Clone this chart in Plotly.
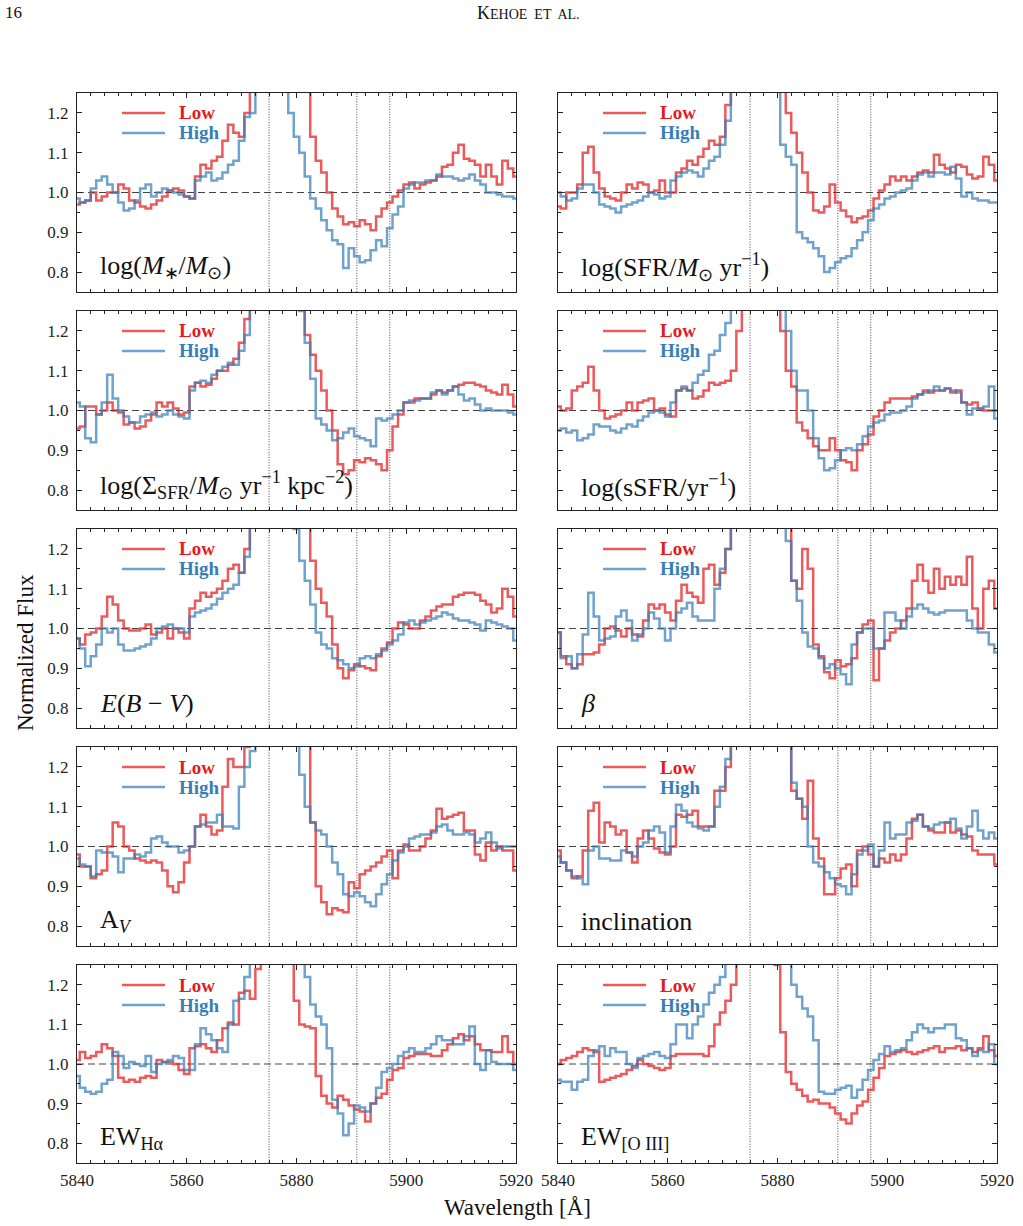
import plotly.graph_objects as go

# ---------------- data (normalized flux, 1 A bins, 5840..5920) ----------------
wavelength = list(range(5840, 5921))

mstar_low = [0.97, 0.975, 0.98, 1.0, 0.98, 0.99, 1.0, 1.0, 1.02, 1.01,
             0.98, 0.975, 0.965, 0.96, 0.97, 0.98, 0.99, 1.005, 1.01, 1.005,
             0.99, 0.985, 1.04, 1.07, 1.06, 1.08, 1.09, 1.13, 1.17, 1.15,
             1.14, 1.2, 1.4, 1.4, 1.4, 1.4, 1.4, 1.4, 1.4, 1.4,
             1.4, 1.4, 1.35, 1.14, 1.08, 1.05, 1.0, 0.96, 0.94, 0.92,
             0.925, 0.915, 0.93, 0.92, 0.905, 0.94, 0.96, 0.975, 0.99, 1.005,
             1.02, 1.025, 1.01, 1.02, 1.025, 1.03, 1.04, 1.065, 1.07, 1.1,
             1.12, 1.085, 1.08, 1.07, 1.04, 1.07, 1.04, 1.02, 1.08, 1.06, 1.04]
mstar_high = [0.985, 0.975, 0.98, 1.01, 1.03, 1.04, 1.02, 1.0, 0.975, 0.955,
              0.96, 0.98, 1.01, 1.02, 0.99, 1.0, 1.01, 1.005, 1.0, 0.995,
              0.99, 0.985, 1.03, 1.04, 1.05, 1.03, 1.035, 1.05, 1.07, 1.08,
              1.13, 1.19, 1.2, 1.26, 1.4, 1.4, 1.4, 1.4, 1.4, 1.2,
              1.14, 1.1, 1.04, 0.985, 0.96, 0.93, 0.905, 0.88, 0.87, 0.81,
              0.86, 0.84, 0.825, 0.83, 0.855, 0.88, 0.865, 0.91, 0.945, 0.965,
              1.01, 1.02, 1.025, 1.025, 1.03, 1.03, 1.045, 1.04, 1.04, 1.035,
              1.03, 1.035, 1.045, 1.03, 1.02, 1.0, 1.0, 0.995, 0.99, 0.99, 0.985]

sfr_low = [0.965, 0.96, 1.0, 1.0, 1.02, 1.1, 1.115, 1.05, 1.01, 0.99,
           0.985, 0.98, 1.0, 1.02, 1.01, 1.025, 1.02, 1.0, 1.005, 1.03,
           1.0, 1.0, 1.05, 1.06, 1.08, 1.07, 1.09, 1.11, 1.13, 1.12,
           1.14, 1.22, 1.4, 1.4, 1.4, 1.4, 1.4, 1.4, 1.4, 1.4,
           1.4, 1.35, 1.2, 1.15, 1.1, 1.05, 1.0, 0.955, 0.95, 0.965,
           1.02, 0.975, 0.955, 0.94, 0.925, 0.935, 0.94, 0.955, 0.985, 1.005,
           1.02, 1.04, 1.03, 1.04, 1.03, 1.04, 1.05, 1.055, 1.05, 1.095,
           1.07, 1.06, 1.05, 1.07, 1.065, 1.045, 1.035, 1.04, 1.09, 1.07, 1.03]
sfr_high = [1.0, 0.99, 0.98, 0.985, 1.01, 1.02, 1.02, 1.0, 0.97, 0.965,
            0.96, 0.95, 0.965, 0.97, 0.975, 0.98, 0.99, 1.0, 0.995, 0.985,
            0.99, 1.03, 1.04, 1.05, 1.055, 1.05, 1.04, 1.06, 1.08, 1.09,
            1.12, 1.18, 1.3, 1.4, 1.4, 1.4, 1.4, 1.4, 1.4, 1.4,
            1.3, 1.12, 1.09, 1.07, 0.9, 0.885, 0.875, 0.86, 0.84, 0.8,
            0.81, 0.825, 0.835, 0.84, 0.86, 0.88, 0.9, 0.93, 0.96, 0.97,
            0.985, 0.99, 1.0, 1.005, 1.01, 1.03, 1.045, 1.05, 1.04, 1.05,
            1.05, 1.045, 1.065, 1.035, 0.99, 1.0, 0.985, 0.98, 0.98, 0.975, 0.975]

sigsfr_low = [0.955, 0.96, 1.01, 1.01, 0.99, 1.0, 1.02, 1.0, 0.995, 0.965,
              0.97, 0.955, 0.96, 0.975, 0.99, 1.02, 1.01, 1.02, 1.005, 0.99,
              0.995, 1.06, 1.07, 1.06, 1.065, 1.08, 1.1, 1.1, 1.115, 1.13,
              1.17, 1.23, 1.4, 1.4, 1.4, 1.4, 1.4, 1.4, 1.4, 1.4,
              1.4, 1.3, 1.19, 1.14, 1.1, 1.05, 1.0, 0.95, 0.865, 0.84,
              0.85, 0.875, 0.87, 0.88, 0.875, 0.865, 0.85, 0.9, 0.96, 0.99,
              1.02, 1.02, 1.03, 1.03, 1.03, 1.04, 1.05, 1.045, 1.05, 1.06,
              1.065, 1.07, 1.07, 1.065, 1.06, 1.05, 1.045, 1.04, 1.065, 1.04, 1.01]
sigsfr_high = [1.02, 1.01, 0.93, 0.92, 0.99, 1.02, 1.09, 1.03, 1.0, 0.985,
               0.97, 0.97, 0.985, 0.99, 0.995, 0.985, 0.99, 1.0, 0.99, 0.985,
               0.98, 1.05, 1.07, 1.075, 1.07, 1.09, 1.1, 1.11, 1.12, 1.115,
               1.15, 1.19, 1.3, 1.4, 1.4, 1.4, 1.4, 1.4, 1.4, 1.4,
               1.4, 1.25, 1.17, 1.08, 0.98, 0.965, 0.95, 0.925, 0.93, 0.945,
               0.955, 0.935, 0.93, 0.925, 0.91, 0.98, 0.975, 0.98, 0.99, 1.0,
               1.02, 1.025, 1.025, 1.03, 1.03, 1.045, 1.05, 1.04, 1.05, 1.06,
               1.04, 1.025, 1.03, 1.015, 1.0, 1.005, 1.0, 1.0, 1.0, 0.995, 0.99]

ssfr_low = [1.01, 1.0, 1.005, 1.05, 1.06, 1.07, 1.11, 1.05, 1.0, 0.98,
            0.985, 0.99, 1.0, 1.02, 1.0, 1.02, 1.025, 1.03, 1.0, 1.005,
            0.99, 0.985, 1.05, 1.055, 1.05, 1.03, 1.035, 1.05, 1.07, 1.065,
            1.07, 1.075, 1.1, 1.2, 1.4, 1.4, 1.4, 1.4, 1.4, 1.4,
            1.4, 1.2, 1.1, 1.06, 0.97, 0.95, 0.93, 0.91, 0.9, 0.9,
            0.93, 0.9, 0.875, 0.87, 0.85, 0.9, 0.915, 0.94, 0.985, 1.0,
            1.02, 1.03, 1.03, 1.03, 1.03, 1.035, 1.04, 1.05, 1.045, 1.05,
            1.05, 1.055, 1.045, 1.05, 1.02, 1.015, 1.02, 1.005, 1.0, 1.0, 1.0]
ssfr_high = [0.95, 0.955, 0.945, 0.95, 0.925, 0.93, 0.94, 0.965, 0.96, 0.96,
             0.95, 0.945, 0.955, 0.965, 0.96, 0.975, 0.985, 0.995, 1.0, 0.995,
             0.985, 1.02, 1.05, 1.06, 1.05, 1.07, 1.09, 1.1, 1.14, 1.15,
             1.19, 1.22, 1.3, 1.4, 1.4, 1.4, 1.4, 1.4, 1.4, 1.4,
             1.4, 1.3, 1.2, 1.1, 1.05, 1.05, 1.0, 0.93, 0.88, 0.85,
             0.855, 0.875, 0.9, 0.905, 0.9, 0.915, 0.935, 0.96, 0.97, 0.975,
             0.99, 0.995, 0.995, 1.0, 1.01, 1.03, 1.04, 1.045, 1.05, 1.06,
             1.05, 1.055, 1.05, 1.045, 1.02, 0.99, 1.005, 1.005, 1.01, 1.06, 0.98]

ebv_low = [0.975, 0.96, 0.985, 0.99, 1.0, 1.03, 1.08, 1.06, 1.02, 1.0,
           0.995, 0.995, 1.0, 1.01, 0.985, 0.99, 1.0, 0.975, 1.0, 0.99,
           0.975, 1.05, 1.07, 1.09, 1.08, 1.09, 1.1, 1.12, 1.15, 1.16,
           1.14, 1.2, 1.3, 1.4, 1.4, 1.4, 1.4, 1.4, 1.4, 1.4,
           1.4, 1.4, 1.3, 1.17, 1.1, 1.065, 1.03, 0.96, 0.9, 0.875,
           0.895, 0.91, 0.905, 0.9, 0.895, 0.93, 0.95, 0.965, 1.0, 1.015,
           1.01, 1.0, 1.0, 1.02, 1.03, 1.045, 1.055, 1.06, 1.06, 1.08,
           1.085, 1.09, 1.09, 1.085, 1.07, 1.06, 1.04, 1.05, 1.1, 1.08, 1.03]
ebv_high = [0.975, 0.95, 0.905, 0.93, 0.96, 1.0, 0.99, 1.0, 0.96, 0.945,
            0.945, 0.95, 0.955, 0.96, 0.975, 1.0, 1.005, 1.01, 1.0, 1.0,
            0.99, 1.03, 1.04, 1.045, 1.05, 1.06, 1.075, 1.09, 1.1, 1.11,
            1.14, 1.18, 1.3, 1.4, 1.4, 1.4, 1.4, 1.4, 1.4, 1.4,
            1.25, 1.17, 1.12, 1.06, 0.99, 0.96, 0.95, 0.925, 0.92, 0.91,
            0.9, 0.905, 0.925, 0.93, 0.925, 0.935, 0.945, 0.96, 0.97, 0.985,
            1.015, 1.02, 1.01, 1.015, 1.02, 1.025, 1.03, 1.04, 1.035, 1.025,
            1.02, 1.02, 1.015, 1.01, 0.995, 1.02, 1.015, 1.01, 1.005, 1.0, 0.97]

beta_low = [0.99, 0.93, 0.91, 0.9, 0.91, 0.935, 0.935, 0.94, 0.96, 1.0,
            1.005, 0.995, 0.98, 1.0, 0.985, 0.98, 1.02, 1.06, 1.05, 1.06,
            1.04, 1.02, 1.07, 1.11, 1.09, 1.08, 1.065, 1.15, 1.16, 1.11,
            1.14, 1.2, 1.3, 1.4, 1.4, 1.4, 1.4, 1.4, 1.4, 1.4,
            1.4, 1.4, 1.3, 1.12, 1.1, 1.2, 1.15, 0.96, 0.93, 0.89,
            0.875, 0.92, 0.905, 0.91, 0.925, 0.99, 1.01, 1.02, 0.87, 0.95,
            0.97, 0.99, 1.0, 1.02, 1.05, 1.12, 1.16, 1.12, 1.09, 1.15,
            1.1, 1.13, 1.11, 1.13, 1.11, 1.18, 1.05, 1.0, 1.1, 1.12, 1.05]
beta_high = [0.99, 0.925, 0.93, 0.9, 0.935, 0.985, 1.09, 1.03, 0.97, 0.975,
             0.98, 1.03, 1.045, 1.02, 0.97, 0.985, 1.0, 1.04, 1.025, 1.0,
             0.97, 1.0, 1.04, 1.05, 1.065, 1.03, 1.02, 1.02, 1.02, 1.1,
             1.15, 1.2, 1.3, 1.4, 1.4, 1.4, 1.4, 1.4, 1.4, 1.4,
             1.4, 1.35, 1.22, 1.12, 1.07, 0.99, 0.955, 0.95, 0.925, 0.9,
             0.91, 0.9, 0.885, 0.86, 0.96, 0.99, 1.0, 1.0, 0.95, 0.95,
             1.04, 1.04, 1.02, 1.0, 1.03, 1.05, 1.06, 1.05, 1.04, 1.035,
             1.04, 1.045, 1.045, 1.045, 1.045, 1.02, 1.0, 0.99, 0.99, 0.96, 0.94]

av_low = [0.98, 0.95, 0.95, 0.92, 0.93, 0.94, 1.0, 1.06, 1.05, 1.0,
          0.99, 0.97, 0.965, 0.96, 0.965, 0.96, 0.94, 0.9, 0.885, 0.91,
          0.96, 1.0, 1.05, 1.08, 1.05, 1.03, 1.04, 1.15, 1.22, 1.2,
          1.2, 1.25, 1.4, 1.4, 1.4, 1.4, 1.4, 1.4, 1.4, 1.4,
          1.4, 1.4, 1.3, 1.06, 0.9, 0.86, 0.83, 0.845, 0.84, 0.835,
          0.91, 0.895, 0.93, 0.94, 0.95, 0.96, 0.975, 0.99, 0.92, 0.99,
          1.005, 0.99, 0.99, 1.0, 1.02, 1.04, 1.095, 1.07, 1.075, 1.08,
          1.085, 1.04, 1.04, 0.98, 0.965, 1.01, 0.99, 1.0, 0.99, 0.99, 0.94]
av_high = [0.97, 0.955, 0.95, 0.925, 0.99, 0.985, 0.985, 0.975, 0.935, 0.97,
           0.97, 0.98, 0.975, 0.985, 1.02, 1.025, 1.01, 1.0, 1.0, 0.985,
           0.99, 1.0, 1.05, 1.055, 1.06, 1.06, 1.08, 1.05, 1.05, 1.045,
           1.15, 1.2, 1.24, 1.3, 1.4, 1.4, 1.4, 1.4, 1.4, 1.4,
           1.3, 1.18, 1.1, 1.06, 1.04, 1.03, 1.0, 0.96, 0.93, 0.88,
           0.875, 0.885, 0.875, 0.86, 0.85, 0.88, 0.905, 0.93, 0.965, 0.985,
           1.0, 1.02, 1.025, 1.03, 1.03, 1.035, 1.05, 1.055, 1.04, 1.03,
           1.03, 1.035, 1.03, 1.01, 1.02, 1.035, 1.01, 0.995, 1.0, 1.0, 1.0]

incl_low = [0.99, 0.96, 0.94, 0.92, 0.925, 0.99, 1.09, 1.11, 1.01, 1.06,
            1.05, 1.03, 1.04, 0.985, 0.96, 1.02, 1.04, 1.02, 0.995, 0.985,
            0.98, 1.0, 1.08, 1.075, 1.08, 1.09, 1.05, 1.05, 1.05, 1.14,
            1.14, 1.2, 1.3, 1.4, 1.4, 1.4, 1.4, 1.4, 1.4, 1.4,
            1.4, 1.4, 1.3, 1.14, 1.12, 1.07, 1.165, 1.02, 0.97, 0.88,
            0.88, 0.92, 0.945, 0.955, 0.9, 0.99, 1.0, 0.98, 0.95, 0.97,
            0.96, 0.98, 0.965, 0.98, 1.02, 1.07, 1.08, 1.05, 1.04, 1.035,
            1.035, 1.06, 1.035, 1.04, 1.03, 1.025, 0.99, 0.98, 0.98, 0.98, 0.955]
incl_high = [0.975, 0.96, 0.94, 0.925, 0.92, 0.905, 0.99, 1.0, 0.97, 0.97,
             0.965, 0.965, 0.99, 0.985, 0.975, 1.0, 1.01, 1.04, 1.05, 1.035,
             0.985, 1.05, 1.105, 1.09, 1.06, 1.05, 1.045, 1.04, 1.05, 1.1,
             1.15, 1.22, 1.3, 1.4, 1.4, 1.4, 1.4, 1.4, 1.4, 1.4,
             1.4, 1.4, 1.3, 1.16, 1.12, 1.1, 1.0, 0.96, 0.95, 0.935,
             0.92, 0.905, 0.9, 0.88, 0.93, 0.98, 0.99, 1.005, 0.95, 0.99,
             1.06, 1.02, 1.03, 1.03, 1.06, 1.065, 1.08, 1.05, 1.045, 1.055,
             1.06, 1.06, 1.07, 1.045, 1.02, 1.05, 1.09, 1.04, 1.02, 1.035, 1.02]

ewha_low = [1.01, 1.03, 1.015, 1.02, 1.03, 1.05, 1.04, 1.02, 0.965, 0.955,
            0.96, 0.955, 0.965, 0.97, 0.965, 1.01, 1.005, 1.005, 1.0, 0.985,
            0.975, 1.04, 1.045, 1.05, 1.04, 1.03, 1.06, 1.09, 1.105, 1.1,
            1.18, 1.185, 1.165, 1.24, 1.4, 1.4, 1.4, 1.4, 1.4, 1.4,
            1.16, 1.1, 1.095, 1.09, 0.97, 0.92, 0.9, 0.89, 0.92, 0.91,
            0.895, 0.885, 0.88, 0.855, 0.9, 0.915, 0.925, 0.96, 0.985, 0.99,
            1.015, 1.02, 1.025, 1.025, 1.025, 1.02, 1.02, 1.035, 1.05, 1.065,
            1.075, 1.06, 1.07, 1.05, 1.035, 1.035, 1.03, 1.03, 1.07, 1.03, 1.0]
ewha_high = [0.97, 0.94, 0.93, 0.925, 0.93, 0.95, 0.96, 1.03, 1.02, 0.99,
             1.005, 1.0, 0.995, 1.02, 0.98, 1.0, 1.005, 1.01, 1.02, 1.015,
             0.985, 0.985, 1.05, 1.09, 1.075, 1.06, 1.04, 1.03, 1.1, 1.16,
             1.165, 1.22, 1.3, 1.4, 1.4, 1.4, 1.4, 1.4, 1.4, 1.4,
             1.4, 1.4, 1.22, 1.15, 1.12, 1.1, 1.04, 0.91, 0.875, 0.82,
             0.85, 0.895, 0.89, 0.88, 0.9, 0.94, 0.98, 0.99, 1.0, 1.02,
             1.03, 1.04, 1.03, 1.03, 1.04, 1.05, 1.07, 1.06, 1.06, 1.05,
             1.05, 1.07, 1.095, 1.0, 0.985, 1.035, 1.005, 1.0, 1.0, 1.0, 0.985]

ewoiii_low = [1.0, 1.01, 1.015, 1.02, 1.03, 1.04, 1.035, 1.03, 0.955, 0.96,
              0.965, 0.97, 0.975, 0.985, 0.995, 1.01, 1.0, 0.995, 0.99, 0.985,
              0.99, 1.02, 1.025, 1.025, 1.025, 1.025, 1.025, 1.02, 1.045, 1.1,
              1.13, 1.16, 1.2, 1.3, 1.4, 1.4, 1.4, 1.4, 1.4, 1.4,
              1.25, 1.08, 0.98, 0.95, 0.935, 0.92, 0.905, 0.91, 0.9, 0.9,
              0.89, 0.875, 0.86, 0.85, 0.875, 0.895, 0.905, 0.935, 0.965, 0.99,
              1.02, 1.025, 1.03, 1.035, 1.03, 1.025, 1.03, 1.035, 1.04, 1.045,
              1.03, 1.04, 1.04, 1.045, 1.035, 1.04, 1.03, 1.04, 1.07, 1.035, 1.02]
ewoiii_high = [0.96, 0.955, 0.955, 0.935, 0.955, 0.96, 1.02, 1.035, 1.045, 1.02,
               1.04, 1.03, 1.03, 1.0, 0.99, 1.015, 1.02, 1.025, 1.03, 1.02,
               1.015, 1.05, 1.1, 1.1, 1.065, 1.1, 1.12, 1.15, 1.18, 1.2,
               1.22, 1.3, 1.4, 1.4, 1.4, 1.4, 1.4, 1.4, 1.4, 1.4,
               1.4, 1.4, 1.3, 1.2, 1.17, 1.14, 1.12, 1.06, 0.93, 0.925,
               0.925, 0.935, 0.94, 0.945, 0.915, 0.935, 0.96, 0.985, 1.01, 1.025,
               1.045, 1.03, 1.035, 1.04, 1.06, 1.08, 1.1, 1.09, 1.08, 1.09,
               1.09, 1.1, 1.1, 1.065, 1.06, 1.04, 1.02, 1.035, 1.03, 1.05, 1.0]

panel_labels = [
    "log(<i>M</i><sub>∗</sub>/<i>M</i><sub>⊙</sub>)",
    "log(SFR/<i>M</i><sub>⊙</sub> yr<sup>−1</sup>)",
    "log(Σ<sub>SFR</sub>/<i>M</i><sub>⊙</sub> yr<sup>−1</sup> kpc<sup>−2</sup>)",
    "log(sSFR/yr<sup>−1</sup>)",
    "<i>E</i>(<i>B</i> − <i>V</i>)",
    "<i>β</i>",
    "A<sub><i>V</i></sub>",
    "inclination",
    "EW<sub>Hα</sub>",
    "EW<sub>[O III]</sub>",
]
low_series = [mstar_low, sfr_low, sigsfr_low, ssfr_low, ebv_low,
              beta_low, av_low, incl_low, ewha_low, ewoiii_low]
high_series = [mstar_high, sfr_high, sigsfr_high, ssfr_high, ebv_high,
               beta_high, av_high, incl_high, ewha_high, ewoiii_high]
series_names = ["Low", "High"]
ref_lines = [5875, 5891, 5897]
x_ticks = [5840, 5860, 5880, 5900, 5920]
y_ticks = [0.8, 0.9, 1.0, 1.1, 1.2]

# ---------------- styling / layout ----------------
W, H = 1023, 1226
FONT = "Liberation Serif"
INK = "#222222"
RED_LINE = "rgba(228,26,28,0.72)"
BLUE_LINE = "rgba(55,126,184,0.72)"
RED_TEXT = "#e41a1c"
BLUE_TEXT = "#377eb8"
col_px = [(77, 516), (558, 997)]
row_px = [(93, 292), (311, 510), (529, 728), (747, 946), (965, 1163)]

fig = go.Figure()
layout = dict(width=W, height=H, autosize=False,
              margin=dict(l=0, r=0, t=0, b=0, pad=0, autoexpand=False),
              paper_bgcolor="white", plot_bgcolor="white", showlegend=False,
              font=dict(family=FONT, color=INK, size=16))
shapes, annotations = [], []

for k in range(10):
    r, c = divmod(k, 2)
    sfx = "" if k == 0 else str(k + 1)
    xa, ya = "x" + sfx, "y" + sfx
    x0p, x1p = col_px[c]
    y0p, y1p = row_px[r]
    pw, ph = x1p - x0p, y1p - y0p

    for ser, name, col in ((low_series[k], series_names[0], RED_LINE),
                           (high_series[k], series_names[1], BLUE_LINE)):
        fig.add_trace(go.Scatter(x=wavelength, y=ser, mode="lines", name=name,
                                 line=dict(color=col, width=2.5, shape="hvh"),
                                 xaxis=xa, yaxis=ya, hoverinfo="skip"))

    layout["xaxis" + sfx] = dict(
        domain=[x0p / W, x1p / W], anchor=ya, range=[5840, 5920], automargin=False,
        tickvals=x_ticks, ticks="inside", ticklen=5, tickwidth=1, tickcolor=INK,
        minor=dict(ticks="inside", ticklen=2.5, tickwidth=0.8, dtick=2.5,
                   tick0=5840, tickcolor=INK),
        showline=True, linecolor=INK, linewidth=1.2, mirror="ticks",
        showgrid=False, zeroline=False, showticklabels=(r == 4),
        tickfont=dict(family=FONT, size=17, color=INK), ticklabelstandoff=1)
    layout["yaxis" + sfx] = dict(
        domain=[1 - y1p / H, 1 - y0p / H], anchor=xa, range=[0.75, 1.25],
        automargin=False,
        tickvals=y_ticks, tickformat=".1f", ticks="inside", ticklen=5,
        tickwidth=1, tickcolor=INK,
        minor=dict(ticks="inside", ticklen=2.5, tickwidth=0.8, dtick=0.05,
                   tick0=0.75, tickcolor=INK),
        showline=True, linecolor=INK, linewidth=1.2, mirror="ticks",
        showgrid=False, zeroline=False, showticklabels=(c == 0),
        tickfont=dict(family=FONT, size=17, color=INK), ticklabelstandoff=4)

    # dashed continuum level and dotted line markers
    shapes.append(dict(type="line", xref=xa + " domain", x0=0, x1=1,
                       yref=ya, y0=1.0, y1=1.0, layer="below",
                       line=dict(color="#444444", width=1.2, dash="7px,4px")))
    for lam in ref_lines:
        shapes.append(dict(type="line", xref=xa, x0=lam, x1=lam,
                           yref=ya + " domain", y0=0, y1=1, layer="below",
                           line=dict(color="#333333", width=0.9, dash="1px,1.6px")))

    # legend keys
    for j, (name, lc, tc) in enumerate(((series_names[0], RED_LINE, RED_TEXT),
                                        (series_names[1], BLUE_LINE, BLUE_TEXT))):
        yy = 1 - (20 + 20 * j) / ph
        shapes.append(dict(type="line", xref=xa + " domain", x0=45 / pw, x1=88 / pw,
                           yref=ya + " domain", y0=yy, y1=yy,
                           line=dict(color=lc, width=2.5)))
        annotations.append(dict(text="<b>%s</b>" % name, xref=xa + " domain",
                                yref=ya + " domain", x=100 / pw, y=yy,
                                xanchor="left", yanchor="middle", showarrow=False,
                                font=dict(family=FONT, size=19, color=tc)))

    annotations.append(dict(text=panel_labels[k], xref=xa + " domain",
                            yref=ya + " domain", x=21 / pw, y=25 / ph,
                            xanchor="left", yanchor="middle", showarrow=False,
                            font=dict(family=FONT, size=26, color="#111111")))

annotations += [
    dict(text="Normalized Flux", xref="paper", yref="paper", x=25 / W,
         y=1 - 653 / H, textangle=-90, showarrow=False, xanchor="center",
         yanchor="middle", font=dict(family=FONT, size=23, color="#111111")),
    dict(text="Wavelength [Å]", xref="paper", yref="paper", x=517 / W,
         y=1 - 1207 / H, showarrow=False, xanchor="center", yanchor="middle",
         font=dict(family=FONT, size=23, color="#111111")),
    dict(text="16", xref="paper", yref="paper", x=3 / W, y=1 - 13 / H,
         showarrow=False, xanchor="left", yanchor="middle",
         font=dict(family=FONT, size=17, color="#111111")),
    dict(text='K<span style="font-size:14px">EHOE  ET  AL.</span>',
         xref="paper", yref="paper", x=528 / W, y=1 - 13 / H,
         showarrow=False, xanchor="center", yanchor="middle",
         font=dict(family=FONT, size=18, color="#111111")),
]

layout["shapes"] = shapes
layout["annotations"] = annotations
fig.update_layout(**layout)
fig.write_html("out.html")
